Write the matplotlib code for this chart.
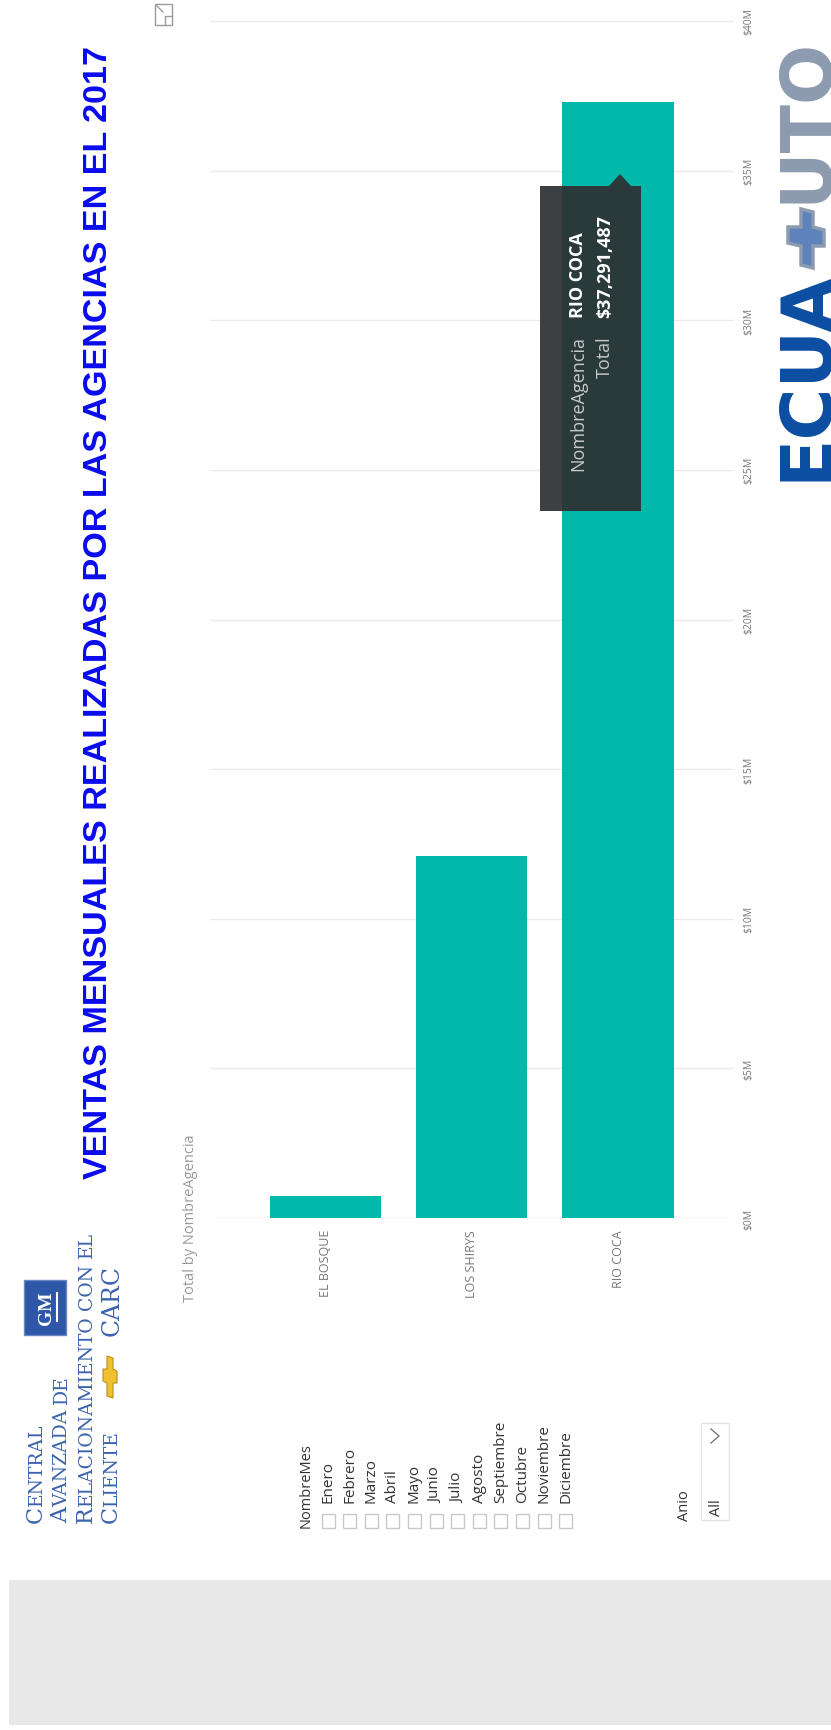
import matplotlib.pyplot as plt
from matplotlib.patches import Rectangle, Polygon
from matplotlib.ticker import FuncFormatter

# datos del reporte
agencias = ['EL BOSQUE', 'LOS SHIRYS', 'RIO COCA']
totales = [740000, 12100000, 37291487]
valores_eje = [0, 5e6, 10e6, 15e6, 20e6, 25e6, 30e6, 35e6, 40e6]
meses = ['Enero', 'Febrero', 'Marzo', 'Abril', 'Mayo', 'Junio', 'Julio',
         'Agosto', 'Septiembre', 'Octubre', 'Noviembre', 'Diciembre']
titulo = 'VENTAS MENSUALES REALIZADAS POR LAS AGENCIAS EN EL 2017'
tooltip_agencia = 'RIO COCA'
tooltip_total = '$37,291,487'

plt.rcParams['font.family'] = ['Open Sans', 'DejaVu Sans']

W, H = 831, 1731
fig = plt.figure(figsize=(W / 100, H / 100), dpi=100)
fig.patch.set_facecolor('white')


def pixel_axes(z):
    a = fig.add_axes([0, 0, 1, 1], zorder=z)
    a.set_xlim(0, W)
    a.set_ylim(H, 0)
    a.axis('off')
    a.patch.set_alpha(0)
    return a


bg = pixel_axes(0)

# grafico de barras (girado 90 grados como en la captura)
base, tope = 1219, 22
ax = fig.add_axes([210 / W, (H - base) / H, 524 / W, (base - tope) / H], zorder=1)
ax.patch.set_alpha(0)
ax.bar(range(len(agencias)), totales, width=0.76, color='#01B8AA')
ax.set_xlim(-0.79, 2.793)
ax.set_ylim(0, 40e6)
ax.set_xticks(range(len(agencias)))
ax.set_xticklabels(agencias)
ax.set_yticks(valores_eje)
ax.yaxis.set_major_formatter(FuncFormatter(lambda v, p: '${:.0f}M'.format(v / 1e6)))
ax.yaxis.tick_right()
ax.grid(axis='y', color='#EAEAEA', lw=1)
ax.set_axisbelow(True)
for s in ax.spines.values():
    s.set_visible(False)
ax.tick_params(axis='y', length=0, pad=7, labelrotation=90, labelsize=7.5, labelcolor='#777777')
ax.tick_params(axis='x', length=0, pad=8, labelrotation=90, labelsize=9, labelcolor='#777777')
for lab in ax.get_yticklabels():
    lab.set_va('center')

# titulo
bg.text(99, 1179, titulo, rotation=90, ha='center', va='bottom', fontsize=24.6,
        fontweight='bold', color='#0A0AF0', family='Liberation Sans')
bg.text(190, 1302, 'Total by NombreAgencia', rotation=90, ha='center', va='bottom',
        fontsize=10.5, color='#9A9A9A')

# icono de foco
bg.add_patch(Rectangle((155, 5), 17, 21, fill=False, ec='#9A9A9A', lw=1))
bg.plot([157, 163], [7, 13], color='#9A9A9A', lw=1)
bg.plot([165, 165, 172], [26, 17, 17], color='#9A9A9A', lw=1)

# logo ECUAUTO
moño = [(-28, -5), (-9, -5), (-6, -18), (10, -18), (10, -5), (28, -5),
        (25, 7), (10, 7), (7, 18), (-9, 18), (-9, 7), (-31, 7)]
bg.add_patch(Polygon([(806 + v, 238 - u) for u, v in moño], closed=True,
                     fc='#5E82BC', ec='#8C9BAF', lw=2.5))
bg.text(826, 481, 'ECUA', rotation=90, rotation_mode='anchor', ha='left', va='baseline',
        fontsize=51, fontweight='bold', color='#0B4EA2', family='DejaVu Sans')
bg.text(826, 203, 'UTO', rotation=90, rotation_mode='anchor', ha='left', va='baseline',
        fontsize=51, fontweight='bold', color='#8C9BAF', family='DejaVu Sans')

# logo CARC
azul = '#3A62AD'
renderer = fig.canvas.get_renderer()


def versalitas(xb, y, texto, grande=16, chica=13.5):
    for k, palabra in enumerate(texto.split(' ')):
        partes = [(palabra[0], grande), (palabra[1:], chica)] if k == 0 else [(palabra, chica)]
        for parte, tam in partes:
            if not parte:
                continue
            t = bg.text(xb, y, parte.upper(), rotation=90, rotation_mode='anchor',
                        ha='left', va='baseline', fontsize=tam, color=azul,
                        family='DejaVu Serif')
            y -= t.get_window_extent(renderer).height
        y -= 6
    return y


versalitas(42, 1523, 'Central')
versalitas(67, 1523, 'Avanzada de')
versalitas(92, 1523, 'Relacionamiento con el')
versalitas(117, 1523, 'Cliente')
corbata = [(-20, -3), (-7, -3), (-5, -7), (7, -7), (7, -3), (20, -3),
           (18, 3), (7, 3), (5, 7), (-7, 7), (-7, 3), (-22, 3)]
bg.add_patch(Polygon([(110 + v, 1377 - u) for u, v in corbata], closed=True,
                     fc='#F0C030', ec='#B8901A', lw=0.8))
bg.text(119, 1336, 'CARC', rotation=90, rotation_mode='anchor', ha='left', va='baseline',
        fontsize=17, color=azul, family='DejaVu Serif')
bg.add_patch(Rectangle((24, 1281), 42, 55, fc='#2F57A8', ec='#6A86C4', lw=1))
bg.text(46, 1308, 'GM', rotation=90, ha='center', va='center', fontsize=14,
        fontweight='bold', color='white', family='Liberation Serif')
bg.plot([57, 57], [1294, 1322], color='white', lw=1.5)

# segmentacion de meses
bg.text(306, 1528, 'NombreMes', rotation=90, ha='center', va='bottom', fontsize=10.5, color='#333333')
for i, mes in enumerate(meses):
    x = 328 + i * 21.6
    bg.add_patch(Rectangle((x - 6.5, 1515), 13, 14, fc='white', ec='#C8C8C8', lw=1))
    bg.text(x, 1503, mes, rotation=90, ha='center', va='bottom', fontsize=11, color='#333333')

# segmentacion de anio
bg.text(684, 1521, 'Anio', rotation=90, ha='center', va='bottom', fontsize=10.5, color='#333333')
bg.add_patch(Rectangle((701, 1424), 28, 97, fc='white', ec='#E3E3E3', lw=1))
bg.text(716, 1516, 'All', rotation=90, ha='center', va='bottom', fontsize=10.5, color='#333333')
bg.plot([711, 719, 711], [1430, 1437, 1444], color='#777777', lw=1)

# franja gris inferior
bg.add_patch(Rectangle((9, 1581), W - 9, 145, fc='#E8E8E8', ec='none'))

# tooltip
top = pixel_axes(2)
top.add_patch(Rectangle((540, 187), 101, 325, fc='#2E3133', ec='none', alpha=0.93))
top.add_patch(Polygon([(609, 187), (620, 175), (631, 187)], closed=True, fc='#2E3133', ec='none', alpha=0.93))
top.text(578, 336, 'NombreAgencia', rotation=90, ha='center', va='top', fontsize=13, color='#C8C8C8')
top.text(605, 336, 'Total', rotation=90, ha='center', va='top', fontsize=13, color='#C8C8C8')
top.text(578, 318, tooltip_agencia, rotation=90, ha='center', va='bottom', fontsize=13,
         fontweight='bold', color='white')
top.text(605, 318, tooltip_total, rotation=90, ha='center', va='bottom', fontsize=13,
         fontweight='bold', color='white')

fig.savefig('out.png', dpi=100)
